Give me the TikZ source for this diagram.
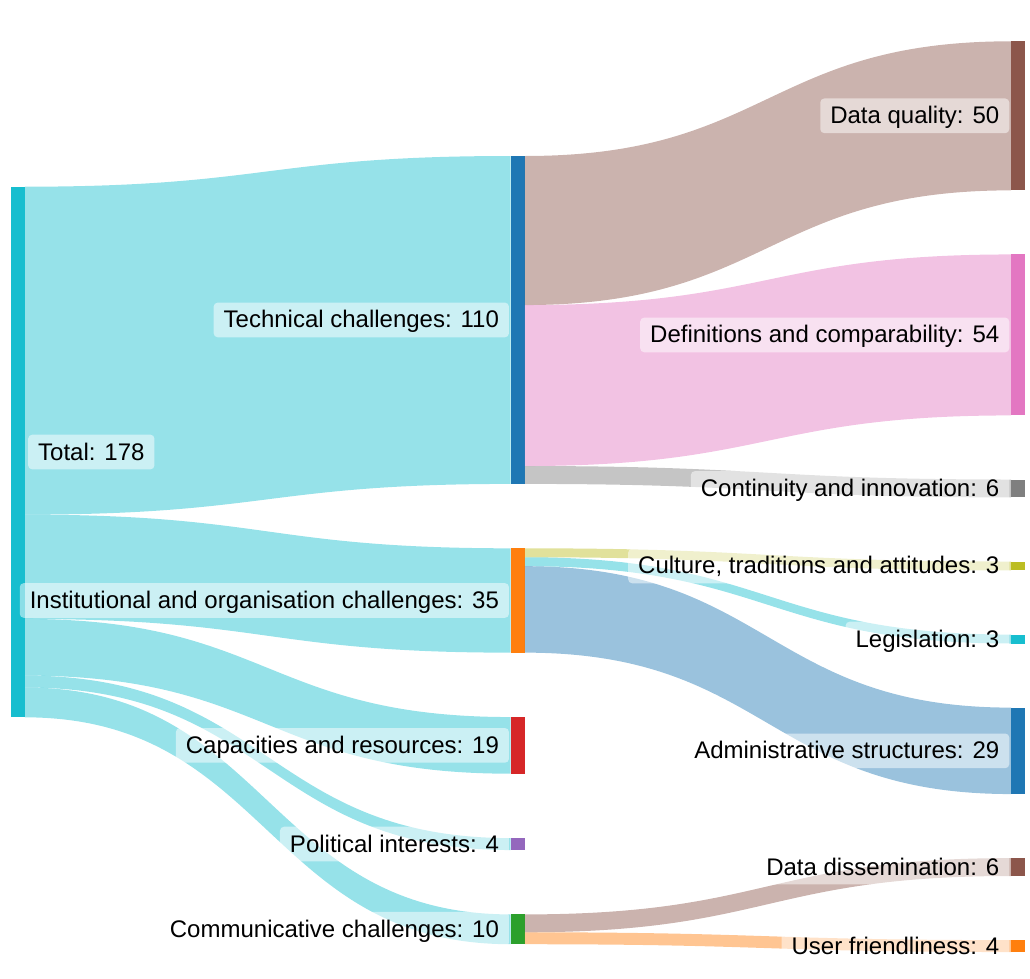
\documentclass[tikz,border=0pt]{standalone}
\usepackage{fontspec}
\setmainfont{Liberation Sans}
\usetikzlibrary{calc,positioning}

\definecolor{cyanT}{HTML}{17BECF}
\definecolor{blueT}{HTML}{1F77B4}
\definecolor{orangeT}{HTML}{FF7F0E}
\definecolor{redT}{HTML}{D62728}
\definecolor{purpleT}{HTML}{9467BD}
\definecolor{greenT}{HTML}{2CA02C}
\definecolor{brownT}{HTML}{8C564B}
\definecolor{pinkT}{HTML}{E377C2}
\definecolor{grayT}{HTML}{7F7F7F}
\definecolor{oliveT}{HTML}{BCBD22}

\def\uu{2.23575pt}% height of one unit of flow
% band from one bar to the next: source, offset, target, offset, value, colour
\newcommand\band[6]{%
  \fill[#6, fill opacity=0.45] let \p1=(#1.north east), \p2=(#3.north west) in
    (\x1,{\y1-(#2)*\uu}) .. controls ({(\x1+\x2)/2},{\y1-(#2)*\uu}) and ({(\x1+\x2)/2},{\y2-(#4)*\uu}) .. (\x2,{\y2-(#4)*\uu})
    -- (\x2,{\y2-(#4+#5)*\uu}) .. controls ({(\x1+\x2)/2},{\y2-(#4+#5)*\uu}) and ({(\x1+\x2)/2},{\y1-(#2+#5)*\uu}) .. (\x1,{\y1-(#2+#5)*\uu}) -- cycle;}

\begin{document}
\begin{tikzpicture}[x=0.75pt, y=-0.75pt,
    bar/.style={anchor=north west, inner sep=0pt, outer sep=0pt, minimum width=10.7pt},
    lbl/.style={fill=white, fill opacity=0.5, text opacity=1, rounded corners=3pt,
      inner xsep=7.5pt, inner ysep=4pt, text height=15pt, text depth=3pt,
      font=\fontsize{18}{20}\selectfont}]
  \useasboundingbox (0,0) rectangle (1030,978);
  % nodes
  \node (tot) [bar, fill=cyanT, minimum height={178*\uu}] at (10.7,186.7) {};
  \node (tech) [bar, fill=blueT, minimum height={110*\uu}] at (510.7,156) {};
  \node (inst) [bar, fill=orangeT, minimum height={35*\uu}] at (510.7,548.3) {};
  \node (cap) [bar, fill=redT, minimum height={19*\uu}] at (510.7,717.05) {};
  \node (pol) [bar, fill=purpleT, minimum height={4*\uu}] at (510.7,838.1) {};
  \node (comm) [bar, fill=greenT, minimum height={10*\uu}] at (510.7,914.4) {};
  \node (dq) [bar, fill=brownT, minimum height={50*\uu}] at (1011,41.3) {};
  \node (def) [bar, fill=pinkT, minimum height={54*\uu}] at (1011,254.45) {};
  \node (cont) [bar, fill=grayT, minimum height={6*\uu}] at (1011,479.5) {};
  \node (cult) [bar, fill=oliveT, minimum height={3*\uu}] at (1011,561.5) {};
  \node (leg) [bar, fill=cyanT, minimum height={3*\uu}] at (1011,634.55) {};
  \node (adm) [bar, fill=blueT, minimum height={29*\uu}] at (1011,707.6) {};
  \node (diss) [bar, fill=brownT, minimum height={6*\uu}] at (1011,858.1) {};
  \node (user) [bar, fill=orangeT, minimum height={4*\uu}] at (1011,940.1) {};
  % bands
  \band{tot}{0}{tech}{0}{110}{cyanT}
  \band{tot}{110}{inst}{0}{35}{cyanT}
  \band{tot}{145}{cap}{0}{19}{cyanT}
  \band{tot}{164}{pol}{0}{4}{cyanT}
  \band{tot}{168}{comm}{0}{10}{cyanT}
  \band{tech}{0}{dq}{0}{50}{brownT}
  \band{tech}{50}{def}{0}{54}{pinkT}
  \band{tech}{104}{cont}{0}{6}{grayT}
  \band{inst}{0}{cult}{0}{3}{oliveT}
  \band{inst}{3}{leg}{0}{3}{cyanT}
  \band{inst}{6}{adm}{0}{29}{blueT}
  \band{comm}{0}{diss}{0}{6}{brownT}
  \band{comm}{6}{user}{0}{4}{orangeT}
  % labels
  \node (ltot) [lbl, right=2.2pt of tot] {Total: 178};
  \node (ltech) [lbl, left=1.1pt of tech] {Technical challenges: 110};
  \node (linst) [lbl, left=1.1pt of inst] {Institutional and organisation challenges: 35};
  \node (lcap) [lbl, left=1.1pt of cap] {Capacities and resources: 19};
  \node (lpol) [lbl, left=1.1pt of pol] {Political interests: 4};
  \node (lcomm) [lbl, left=1.1pt of comm] {Communicative challenges: 10};
  \node (ldq) [lbl, left=1.1pt of dq] {Data quality: 50};
  \node (ldef) [lbl, left=1.1pt of def] {Definitions and comparability: 54};
  \node (lcont) [lbl, left=1.1pt of cont] {Continuity and innovation: 6};
  \node (lcult) [lbl, left=1.1pt of cult] {Culture, traditions and attitudes: 3};
  \node (lleg) [lbl, left=1.1pt of leg] {Legislation: 3};
  \node (ladm) [lbl, left=1.1pt of adm] {Administrative structures: 29};
  \node (ldiss) [lbl, left=1.1pt of diss] {Data dissemination: 6};
  \node (luser) [lbl, left=1.1pt of user] {User friendliness: 4};
\end{tikzpicture}
\end{document}
